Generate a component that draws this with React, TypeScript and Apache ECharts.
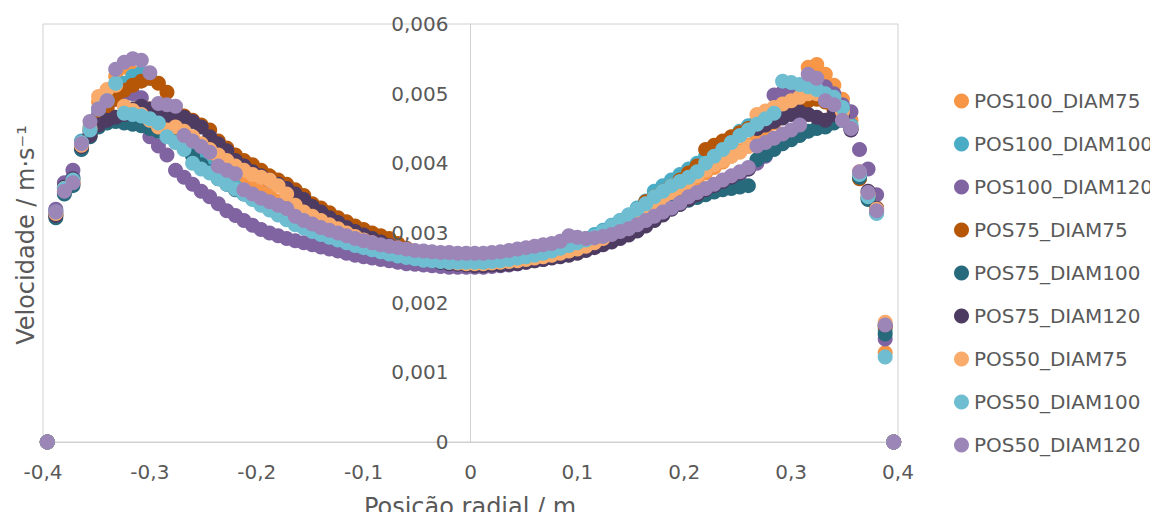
import React, { useEffect, useRef } from "react";
import * as echarts from "echarts";

const FONT = "DejaVu Sans";
const TEXT = "#595959";
const LINE = "#d0d0d0";

const X_TICKS = [-0.4, -0.3, -0.2, -0.1, 0, 0.1, 0.2, 0.3, 0.4];
const Y_TICKS = [0, 0.001, 0.002, 0.003, 0.004, 0.005, 0.006];

const SERIES_NAMES = [
  "POS100_DIAM75", "POS100_DIAM100", "POS100_DIAM120",
  "POS75_DIAM75", "POS75_DIAM100", "POS75_DIAM120",
  "POS50_DIAM75", "POS50_DIAM100", "POS50_DIAM120",
];
const SERIES_COLORS = [
  "#f79646", "#4bacc6", "#8064a2",
  "#b65708", "#276a7c", "#4d3b62",
  "#f9ab6b", "#6fbdd1", "#9c86b8",
];

// Radial position (m)
const POSITION = [
  -0.396, -0.388, -0.380, -0.372, -0.364, -0.356, -0.348, -0.340, -0.332, -0.324,
  -0.316, -0.308, -0.300, -0.292, -0.284, -0.276, -0.268, -0.260, -0.252, -0.244,
  -0.236, -0.228, -0.220, -0.212, -0.204, -0.196, -0.188, -0.180, -0.172, -0.164,
  -0.156, -0.148, -0.140, -0.132, -0.124, -0.116, -0.108, -0.100, -0.092, -0.084,
  -0.076, -0.068, -0.060, -0.052, -0.044, -0.036, -0.028, -0.020, -0.012, -0.004,
  0.004, 0.012, 0.020, 0.028, 0.036, 0.044, 0.052, 0.060, 0.068, 0.076,
  0.084, 0.092, 0.100, 0.108, 0.116, 0.124, 0.132, 0.140, 0.148, 0.156,
  0.164, 0.172, 0.180, 0.188, 0.196, 0.204, 0.212, 0.220, 0.228, 0.236,
  0.244, 0.252, 0.260, 0.268, 0.276, 0.284, 0.292, 0.300, 0.308, 0.316,
  0.324, 0.332, 0.340, 0.348, 0.356, 0.364, 0.372, 0.380, 0.388, 0.396,
];

// Velocity (m/s)
const POS100_DIAM75 = [
  0, 0.00328, 0.00360, 0.00372, 0.00425, 0.00448, 0.00488, 0.00505, 0.00525, 0.00538,
  0.00530, 0.00486, 0.00478, 0.00470, 0.00462, 0.00452, 0.00442, 0.00432, 0.00422, 0.00412,
  0.00402, 0.00394, 0.00386, 0.00378, 0.00370, 0.00362, 0.00354, 0.00346, 0.00338, 0.00331,
  0.00324, 0.00318, 0.00312, 0.00306, 0.00300, 0.00295, 0.00290, 0.00286, 0.00282, 0.00278,
  0.00274, 0.00271, 0.00268, 0.00265, 0.00263, 0.00261, 0.00259, 0.00258, 0.00257, 0.00256,
  0.00256, 0.00256, 0.00257, 0.00258, 0.00259, 0.00261, 0.00263, 0.00265, 0.00267, 0.00270,
  0.00273, 0.00276, 0.00279, 0.00283, 0.00287, 0.00292, 0.00298, 0.00305, 0.00312, 0.00320,
  0.00328, 0.00336, 0.00345, 0.00354, 0.00362, 0.00370, 0.00378, 0.00386, 0.00394, 0.00402,
  0.00410, 0.00418, 0.00426, 0.00436, 0.00446, 0.00458, 0.00470, 0.00484, 0.00500, 0.00538,
  0.00542, 0.00528, 0.00512, 0.00492, 0.00462, 0.00388, 0.00358, 0.00336, 0.00128, 0,
];
const POS100_DIAM100 = [
  0, 0.00332, 0.00365, 0.00380, 0.00432, 0.00452, 0.00478, 0.00492, 0.00500, 0.00515,
  0.00525, 0.00530, 0.00522, 0.00470, 0.00455, 0.00445, 0.00430, 0.00418, 0.00405, 0.00394,
  0.00384, 0.00375, 0.00366, 0.00358, 0.00350, 0.00343, 0.00336, 0.00329, 0.00322, 0.00316,
  0.00310, 0.00305, 0.00300, 0.00295, 0.00291, 0.00287, 0.00283, 0.00279, 0.00276, 0.00273,
  0.00270, 0.00267, 0.00265, 0.00263, 0.00261, 0.00259, 0.00258, 0.00257, 0.00256, 0.00256,
  0.00256, 0.00257, 0.00258, 0.00259, 0.00261, 0.00263, 0.00265, 0.00268, 0.00271, 0.00274,
  0.00278, 0.00282, 0.00287, 0.00292, 0.00298, 0.00304, 0.00311, 0.00318, 0.00326, 0.00336,
  0.00346, 0.00360, 0.00368, 0.00376, 0.00384, 0.00392, 0.00400, 0.00410, 0.00420, 0.00428,
  0.00436, 0.00446, 0.00454, 0.00462, 0.00468, 0.00474, 0.00480, 0.00488, 0.00494, 0.00500,
  0.00502, 0.00498, 0.00490, 0.00478, 0.00455, 0.00382, 0.00352, 0.00332, 0.00160, 0,
];
const POS100_DIAM120 = [
  0, 0.00334, 0.00372, 0.00390, 0.00430, 0.00446, 0.00470, 0.00482, 0.00492, 0.00498,
  0.00500, 0.00494, 0.00438, 0.00425, 0.00412, 0.00390, 0.00380, 0.00370, 0.00360, 0.00352,
  0.00342, 0.00332, 0.00325, 0.00318, 0.00311, 0.00305, 0.00300, 0.00296, 0.00292, 0.00289,
  0.00286, 0.00283, 0.00280, 0.00277, 0.00274, 0.00271, 0.00268, 0.00266, 0.00264, 0.00262,
  0.00260, 0.00258, 0.00256, 0.00255, 0.00254, 0.00253, 0.00252, 0.00251, 0.00251, 0.00251,
  0.00251, 0.00251, 0.00252, 0.00253, 0.00254, 0.00256, 0.00258, 0.00260, 0.00262, 0.00265,
  0.00268, 0.00271, 0.00274, 0.00278, 0.00282, 0.00286, 0.00291, 0.00296, 0.00302, 0.00309,
  0.00316, 0.00323, 0.00330, 0.00336, 0.00342, 0.00348, 0.00354, 0.00360, 0.00366, 0.00372,
  0.00378, 0.00384, 0.00392, 0.00400, 0.00410, 0.00498, 0.00502, 0.00504, 0.00506, 0.00508,
  0.00512, 0.00510, 0.00500, 0.00484, 0.00474, 0.00420, 0.00392, 0.00355, 0.00148, 0,
];
const POS75_DIAM75 = [
  0, 0.00326, 0.00358, 0.00370, 0.00422, 0.00440, 0.00462, 0.00478, 0.00492, 0.00505,
  0.00512, 0.00518, 0.00522, 0.00515, 0.00502, 0.00475, 0.00468, 0.00462, 0.00455, 0.00448,
  0.00432, 0.00422, 0.00412, 0.00404, 0.00398, 0.00390, 0.00382, 0.00376, 0.00370, 0.00362,
  0.00354, 0.00342, 0.00336, 0.00329, 0.00322, 0.00316, 0.00310, 0.00305, 0.00300, 0.00296,
  0.00292, 0.00285, 0.00278, 0.00272, 0.00267, 0.00263, 0.00260, 0.00258, 0.00257, 0.00256,
  0.00256, 0.00256, 0.00257, 0.00258, 0.00260, 0.00262, 0.00264, 0.00266, 0.00269, 0.00272,
  0.00275, 0.00279, 0.00283, 0.00288, 0.00293, 0.00298, 0.00304, 0.00310, 0.00318, 0.00326,
  0.00345, 0.00352, 0.00360, 0.00368, 0.00376, 0.00386, 0.00396, 0.00420, 0.00426, 0.00432,
  0.00438, 0.00444, 0.00450, 0.00456, 0.00462, 0.00468, 0.00474, 0.00480, 0.00486, 0.00490,
  0.00492, 0.00488, 0.00478, 0.00466, 0.00450, 0.00378, 0.00350, 0.00330, 0.00165, 0,
];
const POS75_DIAM100 = [
  0, 0.00322, 0.00356, 0.00368, 0.00420, 0.00438, 0.00452, 0.00458, 0.00460, 0.00458,
  0.00456, 0.00454, 0.00450, 0.00446, 0.00440, 0.00432, 0.00422, 0.00410, 0.00398, 0.00388,
  0.00378, 0.00370, 0.00362, 0.00356, 0.00350, 0.00344, 0.00338, 0.00333, 0.00328, 0.00322,
  0.00317, 0.00312, 0.00307, 0.00302, 0.00298, 0.00294, 0.00290, 0.00286, 0.00282, 0.00278,
  0.00274, 0.00270, 0.00267, 0.00264, 0.00262, 0.00260, 0.00258, 0.00257, 0.00256, 0.00255,
  0.00255, 0.00255, 0.00256, 0.00257, 0.00258, 0.00259, 0.00261, 0.00263, 0.00265, 0.00268,
  0.00271, 0.00274, 0.00277, 0.00281, 0.00285, 0.00289, 0.00294, 0.00299, 0.00305, 0.00311,
  0.00318, 0.00325, 0.00332, 0.00338, 0.00343, 0.00347, 0.00351, 0.00355, 0.00359, 0.00362,
  0.00364, 0.00366, 0.00368, 0.00405, 0.00412, 0.00420, 0.00428, 0.00434, 0.00440, 0.00446,
  0.00450, 0.00452, 0.00458, 0.00462, 0.00450, 0.00380, 0.00348, 0.00330, 0.00155, 0,
];
const POS75_DIAM120 = [
  0, 0.00325, 0.00366, 0.00378, 0.00424, 0.00440, 0.00455, 0.00462, 0.00466, 0.00470,
  0.00478, 0.00482, 0.00478, 0.00472, 0.00466, 0.00470, 0.00466, 0.00460, 0.00452, 0.00438,
  0.00428, 0.00418, 0.00404, 0.00396, 0.00388, 0.00382, 0.00376, 0.00370, 0.00364, 0.00356,
  0.00348, 0.00338, 0.00330, 0.00322, 0.00315, 0.00308, 0.00302, 0.00297, 0.00292, 0.00287,
  0.00282, 0.00277, 0.00272, 0.00268, 0.00264, 0.00261, 0.00258, 0.00256, 0.00255, 0.00254,
  0.00253, 0.00253, 0.00254, 0.00254, 0.00255, 0.00256, 0.00258, 0.00260, 0.00262, 0.00264,
  0.00266, 0.00268, 0.00271, 0.00275, 0.00279, 0.00283, 0.00287, 0.00292, 0.00297, 0.00303,
  0.00310, 0.00318, 0.00326, 0.00334, 0.00341, 0.00348, 0.00355, 0.00362, 0.00368, 0.00374,
  0.00380, 0.00386, 0.00392, 0.00450, 0.00455, 0.00460, 0.00465, 0.00470, 0.00474, 0.00470,
  0.00466, 0.00462, 0.00470, 0.00468, 0.00448, 0.00385, 0.00360, 0.00335, 0.00168, 0,
];
const POS50_DIAM75 = [
  0, 0.00328, 0.00364, 0.00374, 0.00426, 0.00450, 0.00496, 0.00506, 0.00512, 0.00482,
  0.00476, 0.00470, 0.00462, 0.00452, 0.00448, 0.00452, 0.00446, 0.00438, 0.00428, 0.00420,
  0.00412, 0.00404, 0.00396, 0.00390, 0.00384, 0.00380, 0.00376, 0.00368, 0.00356, 0.00340,
  0.00330, 0.00324, 0.00318, 0.00312, 0.00306, 0.00300, 0.00295, 0.00290, 0.00286, 0.00282,
  0.00278, 0.00274, 0.00270, 0.00267, 0.00264, 0.00262, 0.00260, 0.00258, 0.00257, 0.00256,
  0.00256, 0.00256, 0.00257, 0.00258, 0.00259, 0.00260, 0.00262, 0.00264, 0.00266, 0.00268,
  0.00271, 0.00274, 0.00277, 0.00281, 0.00286, 0.00292, 0.00300, 0.00310, 0.00318, 0.00326,
  0.00334, 0.00342, 0.00350, 0.00358, 0.00366, 0.00374, 0.00382, 0.00390, 0.00398, 0.00404,
  0.00410, 0.00416, 0.00424, 0.00470, 0.00475, 0.00480, 0.00485, 0.00490, 0.00495, 0.00500,
  0.00500, 0.00498, 0.00488, 0.00474, 0.00452, 0.00385, 0.00355, 0.00334, 0.00172, 0,
];
const POS50_DIAM100 = [
  0, 0.00330, 0.00364, 0.00376, 0.00430, 0.00448, 0.00478, 0.00490, 0.00515, 0.00472,
  0.00470, 0.00468, 0.00464, 0.00458, 0.00438, 0.00430, 0.00420, 0.00400, 0.00392, 0.00386,
  0.00378, 0.00370, 0.00363, 0.00356, 0.00348, 0.00340, 0.00333, 0.00326, 0.00319, 0.00312,
  0.00307, 0.00302, 0.00298, 0.00294, 0.00290, 0.00286, 0.00282, 0.00279, 0.00276, 0.00273,
  0.00270, 0.00267, 0.00265, 0.00263, 0.00261, 0.00260, 0.00259, 0.00258, 0.00258, 0.00258,
  0.00258, 0.00258, 0.00259, 0.00260, 0.00262, 0.00264, 0.00266, 0.00268, 0.00271, 0.00274,
  0.00278, 0.00282, 0.00286, 0.00290, 0.00295, 0.00302, 0.00310, 0.00318, 0.00326, 0.00334,
  0.00342, 0.00352, 0.00360, 0.00368, 0.00374, 0.00380, 0.00388, 0.00400, 0.00410, 0.00420,
  0.00430, 0.00440, 0.00448, 0.00456, 0.00464, 0.00472, 0.00518, 0.00516, 0.00513, 0.00510,
  0.00506, 0.00500, 0.00495, 0.00480, 0.00452, 0.00384, 0.00352, 0.00328, 0.00122, 0,
];
const POS50_DIAM120 = [
  0, 0.00330, 0.00360, 0.00372, 0.00428, 0.00460, 0.00478, 0.00490, 0.00535, 0.00545,
  0.00550, 0.00548, 0.00530, 0.00486, 0.00484, 0.00482, 0.00440, 0.00432, 0.00424, 0.00416,
  0.00396, 0.00390, 0.00385, 0.00362, 0.00356, 0.00350, 0.00345, 0.00340, 0.00335, 0.00324,
  0.00318, 0.00313, 0.00308, 0.00304, 0.00300, 0.00296, 0.00292, 0.00289, 0.00286, 0.00283,
  0.00281, 0.00279, 0.00277, 0.00275, 0.00274, 0.00273, 0.00272, 0.00272, 0.00271, 0.00271,
  0.00271, 0.00271, 0.00272, 0.00273, 0.00275, 0.00277, 0.00279, 0.00281, 0.00283, 0.00285,
  0.00288, 0.00296, 0.00294, 0.00292, 0.00293, 0.00295, 0.00298, 0.00302, 0.00306, 0.00312,
  0.00318, 0.00324, 0.00330, 0.00336, 0.00343, 0.00352, 0.00358, 0.00364, 0.00370, 0.00376,
  0.00382, 0.00388, 0.00394, 0.00425, 0.00430, 0.00436, 0.00442, 0.00448, 0.00455, 0.00528,
  0.00522, 0.00490, 0.00484, 0.00462, 0.00450, 0.00388, 0.00358, 0.00332, 0.00168, 0,
];

const SERIES_VALUES = [
  POS100_DIAM75, POS100_DIAM100, POS100_DIAM120,
  POS75_DIAM75, POS75_DIAM100, POS75_DIAM120,
  POS50_DIAM75, POS50_DIAM100, POS50_DIAM120,
];

const X_TITLE = "Posição radial / m";
const Y_TITLE = "Velocidade / m·s⁻¹";

const GRID_LEFT = 43;
const GRID_RIGHT = 260;
const CHART_W = 1158;

export default function App() {
  const ref = useRef<HTMLDivElement>(null);

  useEffect(() => {
    if (!ref.current) return;
    const chart = echarts.init(ref.current, undefined, { renderer: "svg" });
    const fmtX = (v: number) => (Math.abs(v) < 1e-9 ? "0" : v.toFixed(1).replace(".", ","));
    const fmtY = (v: number) => (Math.abs(v) < 1e-12 ? "0" : v.toFixed(3).replace(".", ","));
    const plotW = CHART_W - GRID_LEFT - GRID_RIGHT;

    const yBase = {
      type: "value",
      position: "left",
      min: Y_TICKS[0],
      max: Y_TICKS[Y_TICKS.length - 1],
      interval: 0.001,
      offset: -plotW / 2,
      axisTick: { show: false },
      splitLine: { show: false },
    };

    chart.setOption({
      animation: false,
      textStyle: { fontFamily: FONT },
      grid: {
        left: GRID_LEFT,
        right: GRID_RIGHT,
        top: 24,
        bottom: 78,
        containLabel: false,
        outerBoundsMode: "none",
        show: true,
        borderColor: LINE,
        borderWidth: 1,
      },
      legend: {
        orient: "vertical",
        left: 949,
        top: 86,
        icon: "circle",
        itemWidth: 15,
        itemHeight: 15,
        itemGap: 23,
        textStyle: { fontFamily: FONT, fontSize: 20, color: TEXT },
        data: SERIES_NAMES,
      },
      xAxis: {
        type: "value",
        min: X_TICKS[0],
        max: X_TICKS[X_TICKS.length - 1],
        interval: 0.1,
        axisLine: { show: true, onZero: false, lineStyle: { color: LINE, width: 1 } },
        axisTick: { show: false },
        splitLine: { show: false },
        axisLabel: {
          formatter: fmtX,
          fontFamily: FONT,
          fontSize: 20,
          color: TEXT,
          margin: 20,
        },
      },
      yAxis: [
        {
          ...yBase,
          z: 0,
          axisLine: { show: true, onZero: false, lineStyle: { color: LINE, width: 1 } },
          axisLabel: { show: false },
        },
        {
          ...yBase,
          z: 5,
          axisLine: { show: false },
          axisLabel: {
            formatter: fmtY,
            fontFamily: FONT,
            fontSize: 20,
            color: TEXT,
            margin: 22,
          },
        },
      ],
      graphic: [
        {
          type: "text",
          x: 470,
          y: 507,
          style: {
            text: X_TITLE,
            fontFamily: FONT,
            fontSize: 24,
            fill: TEXT,
            align: "center",
            verticalAlign: "middle",
          },
        },
        {
          type: "text",
          x: 26,
          y: 235,
          rotation: Math.PI / 2,
          style: {
            text: Y_TITLE,
            fontFamily: FONT,
            fontSize: 24,
            fill: TEXT,
            align: "center",
            verticalAlign: "middle",
          },
        },
      ],
      series: SERIES_NAMES.map((name, k) => ({
        name,
        type: "scatter",
        yAxisIndex: 0,
        symbol: "circle",
        symbolSize: 15,
        itemStyle: { color: SERIES_COLORS[k], opacity: 1 },
        emphasis: { disabled: true },
        data: POSITION.map((x, i) => [x, SERIES_VALUES[k][i]]),
      })),
    });
    return () => chart.dispose();
  }, []);

  return <div ref={ref} style={{ width: 1158, height: 520, margin: -8 }} />;
}
